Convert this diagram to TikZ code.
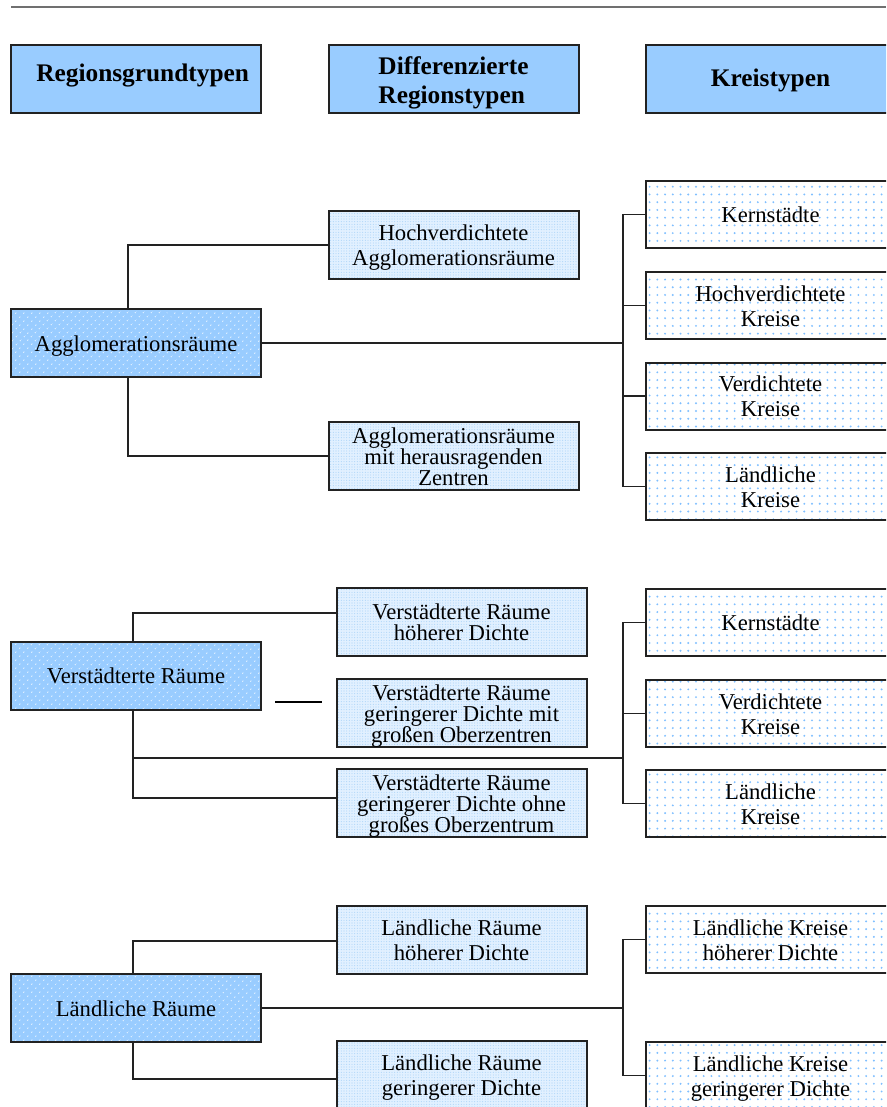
\documentclass[tikz,border=0pt]{standalone}
\usepackage{fontspec}
\setmainfont{Liberation Serif}
\usetikzlibrary{patterns.meta,calc}
\definecolor{hdrblue}{HTML}{99CCFF}
\definecolor{lblue}{HTML}{99CCFF}
\definecolor{midblue}{HTML}{E1F0FF}
\definecolor{middot}{HTML}{A9D2F7}
\definecolor{rdot}{HTML}{7FBFFF}
\definecolor{edge}{HTML}{222222}
\definecolor{rule}{HTML}{707070}
\newcommand\bodyfnt{\fontsize{17}{18.75}\selectfont}
\newcommand\bodytight{\fontsize{17}{15.75}\selectfont}
\tikzset{
  box/.style={draw=edge, line width=1.5pt, inner sep=0pt, align=center,
    minimum width=187.5pt, minimum height=51pt},
  tb/.style 2 args={text height=#1, text depth=#2},
  one/.style={tb={15.7pt}{3.7pt}},
  two/.style={tb={34.45pt}{3.7pt}},
  twot/.style={font=\bodytight, tb={31.45pt}{3.7pt}},
  three/.style={font=\bodytight, tb={47.2pt}{3.7pt}},
  hdr/.style={box, fill=hdrblue, font=\fontsize{19}{21.75}\selectfont\bfseries},
  grund/.style={box, preaction={fill=lblue},
    pattern={Dots[distance=4pt, angle=45, radius=0.55pt]}, pattern color=white, font=\bodyfnt},
  mid/.style={box, preaction={fill=midblue},
    pattern={Dots[distance=2pt, radius=0.4pt]}, pattern color=middot, font=\bodyfnt},
  kreis/.style={box, minimum width=186.75pt, minimum height=50.25pt, preaction={fill=white},
    pattern={Dots[distance=5.8pt, radius=0.8pt]}, pattern color=rdot, font=\bodyfnt},
  conn/.style={draw=edge, line width=1.3pt},
}
\begin{document}
\begin{tikzpicture}[x=0.75pt,y=-0.75pt]
\path[use as bounding box] (0,0) rectangle (886,1107);
\clip (0,0) rectangle (886,1107);

% top rule
\coordinate (r1) at (11,7);
\coordinate (r2) at (886,7);
\draw[rule, line width=0.8pt] (r1) -- (r2);

% headers
\node[hdr, tb={13.1pt}{9.1pt}] (H1) at (136,79) {\hspace*{10pt}Regionsgrundtypen};
\node[hdr, tb={40.45pt}{4.1pt}, align=left] (H2) at (453.5,79) {Differenzierte\\Regionstypen};
\node[hdr, tb={15.7pt}{4.1pt}, minimum width=186.75pt] (H3) at (770.5,79) {Kreistypen};

\coordinate (b1) at (623,0);

% ---- Section 1
\node[grund, one] (L1) at (136,343) {Agglomerationsräume};
\node[mid, two] (M1a) at (453.5,245) {Hochverdichtete\\Agglomerationsräume};
\node[mid, three] (M1b) at (453.5,456) {Agglomerationsräume\\mit herausragenden\\Zentren};
\node[kreis, one] (R1a) at (770.5,214.5) {Kernstädte};
\node[kreis, two] (R1b) at (770.5,305.5) {Hochverdichtete\\Kreise};
\node[kreis, two] (R1c) at (770.5,396) {Verdichtete\\Kreise};
\node[kreis, two] (R1d) at (770.5,486.5) {Ländliche\\Kreise};

\draw[conn] ($(L1.north)+(-8,0)$) |- (M1a.west);
\draw[conn] ($(L1.south)+(-8,0)$) |- (M1b.west);
\draw[conn] (L1.east) -- (L1.east -| b1);
\draw[conn] (R1a.west) -- (R1a.west -| b1) -- (R1d.west -| b1) -- (R1d.west);
\draw[conn] (R1b.west) -- (R1b.west -| b1);
\draw[conn] (R1c.west) -- (R1c.west -| b1);

% ---- Section 2
\node[grund, one] (L2) at (136,675.5) {Verstädterte Räume};
\node[mid, twot] (M2a) at (461.5,622) {Verstädterte Räume\\höherer Dichte};
\node[mid, three] (M2b) at (461.5,713) {Verstädterte Räume\\geringerer Dichte mit\\großen Oberzentren};
\node[mid, three] (M2c) at (461.5,803) {Verstädterte Räume\\geringerer Dichte ohne\\großes Oberzentrum};
\node[kreis, one] (R2a) at (770.5,622.5) {Kernstädte};
\node[kreis, two] (R2b) at (770.5,713.5) {Verdichtete\\Kreise};
\node[kreis, two] (R2c) at (770.5,803.5) {Ländliche\\Kreise};

\draw[conn] ($(L2.north)+(-3,0)$) |- ($(M2a.west)+(0,-9)$);
\draw[conn] ($(L2.south)+(-3,0)$) |- ($(M2c.west)+(0,-5)$);
\coordinate (j2) at (133,758);
\draw[conn] (j2) -- (j2 -| b1);
\draw[conn] (R2a.west) -- (R2a.west -| b1) -- (R2c.west -| b1) -- (R2c.west);
\draw[conn] (R2b.west) -- (R2b.west -| b1);
\coordinate (d1) at (275,702);
\coordinate (d2) at (322,702);
\draw[draw=black, line width=1.8pt] (d1) -- (d2);

% ---- Section 3
\node[grund, one] (L3) at (136,1008) {Ländliche Räume};
\node[mid, two] (M3a) at (461.5,939.5) {Ländliche Räume\\höherer Dichte};
\node[mid, two] (M3b) at (461.5,1075) {Ländliche Räume\\geringerer Dichte};
\node[kreis, two] (R3a) at (770.5,939.5) {Ländliche Kreise\\höherer Dichte};
\node[kreis, two] (R3b) at (770.5,1075.5) {Ländliche Kreise\\geringerer Dichte};

\draw[conn] ($(L3.north)+(-3,0)$) |- ($(M3a.west)+(0,1.5)$);
\draw[conn] ($(L3.south)+(-3,0)$) |- ($(M3b.west)+(0,4)$);
\draw[conn] (L3.east) -- (L3.east -| b1);
\draw[conn] (R3a.west) -- (R3a.west -| b1) -- (R3b.west -| b1) -- (R3b.west);
\end{tikzpicture}
\end{document}
